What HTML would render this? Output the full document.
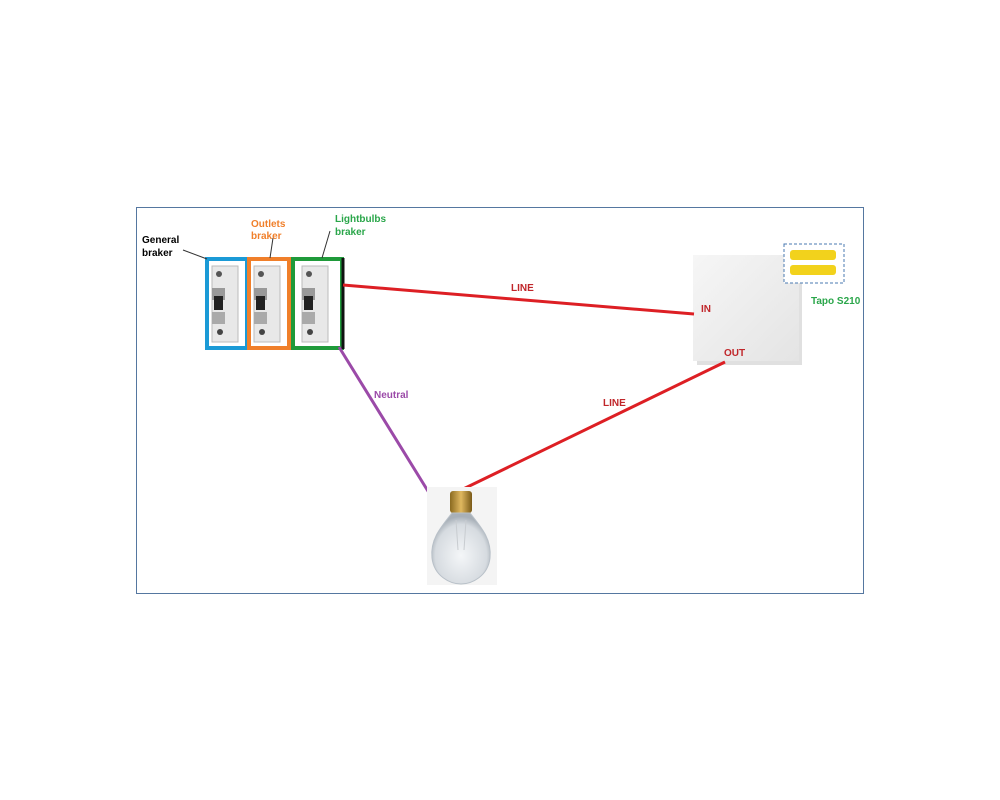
<!DOCTYPE html>
<html><head><style>body{margin:0;background:#fff}svg{display:block}text{font-family:"Liberation Sans",sans-serif;font-weight:bold;font-size:10px}</style></head>
<body>
<svg width="1000" height="800" viewBox="0 0 1000 800">
<defs>
<linearGradient id="sw" x1="0" y1="0" x2="1" y2="1"><stop offset="0" stop-color="#f6f6f6"/><stop offset="1" stop-color="#e4e4e4"/></linearGradient>
<radialGradient id="gl" cx="0.5" cy="0.6" r="0.55"><stop offset="0" stop-color="#f4f6f8"/><stop offset="0.8" stop-color="#d6dbe0"/><stop offset="1" stop-color="#a8b0b8"/></radialGradient>
<linearGradient id="br" x1="0" y1="0" x2="1" y2="0"><stop offset="0" stop-color="#8a6a20"/><stop offset="0.5" stop-color="#e0b860"/><stop offset="1" stop-color="#7a5a18"/></linearGradient>
<g id="brk">
<rect x="0" y="0" width="26" height="76" fill="#e8e8e8" stroke="#bbb"/>
<circle cx="7" cy="8" r="3" fill="#555"/>
<rect x="0" y="22" width="13" height="12" fill="#999"/>
<rect x="2" y="30" width="9" height="14" fill="#222"/>
<rect x="0" y="46" width="13" height="12" fill="#aaa"/>
<circle cx="8" cy="66" r="3" fill="#444"/>
</g>
</defs>
<rect x="136.5" y="207.5" width="727" height="386" fill="#fff" stroke="#5577a0" stroke-width="1"/>
<rect x="205" y="257" width="43" height="92" fill="#fff"/>
<use href="#brk" x="212" y="266"/>
<use href="#brk" x="254" y="266"/>
<use href="#brk" x="302" y="266"/>
<rect x="207" y="259" width="40" height="89" fill="none" stroke="#1b9ad6" stroke-width="4"/>
<rect x="249" y="259" width="40" height="89" fill="none" stroke="#f07f2a" stroke-width="4"/>
<rect x="293" y="259" width="49" height="89" fill="none" stroke="#1f9a3a" stroke-width="4"/>
<line x1="343" y1="258" x2="343" y2="349" stroke="#111" stroke-width="3"/>
<line x1="183" y1="250" x2="207" y2="259" stroke="#333" stroke-width="1"/>
<line x1="273" y1="238" x2="270" y2="258" stroke="#333" stroke-width="1"/>
<line x1="330" y1="231" x2="322" y2="258" stroke="#333" stroke-width="1"/>
<text x="142" y="243" fill="#000">General</text><text x="142" y="256" fill="#000">braker</text>
<text x="251" y="227" fill="#f07f2a">Outlets</text><text x="251" y="239" fill="#f07f2a">braker</text>
<text x="335" y="222" fill="#2aa64a">Lightbulbs</text><text x="335" y="235" fill="#2aa64a">braker</text>
<rect x="697" y="259" width="105" height="106" fill="#ccc" opacity="0.6"/>
<rect x="693" y="255" width="106" height="106" fill="url(#sw)"/>
<rect x="784" y="244" width="60" height="39" fill="#fff" stroke="#4a7ab0" stroke-dasharray="3,2"/>
<rect x="790" y="250" width="46" height="10" rx="3" fill="#f2d21c"/>
<rect x="790" y="265" width="46" height="10" rx="3" fill="#f2d21c"/>
<text x="811" y="304" fill="#2aa64a">Tapo S210</text>
<line x1="343" y1="285" x2="694" y2="314" stroke="#dd1f24" stroke-width="3"/>
<line x1="725" y1="362" x2="457" y2="492" stroke="#dd1f24" stroke-width="3"/>
<polyline points="339,347 431,496 457,500" fill="none" stroke="#9b4aa8" stroke-width="3"/>
<text x="511" y="291" fill="#c0262a">LINE</text>
<text x="701" y="312" fill="#c0262a">IN</text>
<text x="724" y="356" fill="#c0262a">OUT</text>
<text x="603" y="406" fill="#c0262a">LINE</text>
<text x="374" y="398" fill="#9b4aa8">Neutral</text>
<rect x="427" y="487" width="70" height="98" fill="#f4f4f4"/>
<rect x="450" y="491" width="22" height="22" rx="3" fill="url(#br)"/>
<path d="M452,513 C440,528 430,540 432,558 C434,576 450,584 461,584 C472,584 488,576 490,558 C492,540 482,528 470,513 Z" fill="url(#gl)" stroke="#b8c0c8"/>
<path d="M456,520 L458,550 M466,520 L464,550" stroke="#c8ccd0" fill="none"/>
</svg>
</body></html>
